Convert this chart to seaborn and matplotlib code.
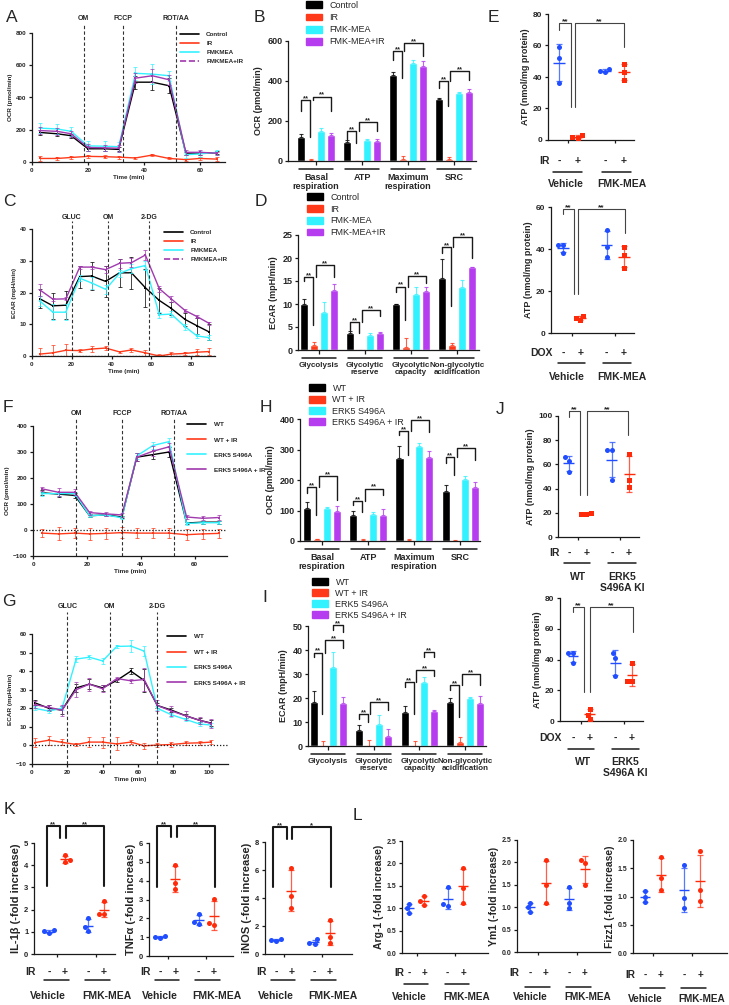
import numpy as np
import pandas as pd
import matplotlib
matplotlib.use("Agg")
import matplotlib.pyplot as plt
import seaborn as sns
from matplotlib.lines import Line2D
from matplotlib.patches import Patch

# ---------------- data ----------------
# A: OCR trace, FMK-MEA experiment
t_a = [3, 9, 14, 20, 26, 31, 37, 43, 49, 55, 60, 66]
ocr_a = {
    "Control": [183, 175, 163, 82, 82, 78, 495, 495, 473, 55, 55, 57],
    "IR": [22, 22, 28, 35, 33, 30, 25, 43, 22, 15, 22, 18],
    "FMKMEA": [210, 205, 190, 100, 98, 95, 550, 545, 535, 45, 50, 60],
    "FMKMEA+IR": [195, 190, 175, 90, 88, 85, 520, 535, 510, 60, 60, 55],
}
ocr_a_err = {
    "Control": [15, 15, 12, 15, 15, 12, 40, 50, 45, 10, 10, 10],
    "IR": [15, 12, 10, 8, 10, 10, 8, 8, 6, 6, 8, 10],
    "FMKMEA": [30, 30, 30, 30, 30, 30, 40, 60, 30, 20, 20, 15],
    "FMKMEA+IR": [20, 20, 20, 20, 20, 20, 30, 40, 30, 15, 15, 10],
}

# C: ECAR trace, FMK-MEA experiment
t_c = [4, 10.5, 17, 24, 30, 37, 44, 50, 57, 64, 70, 77, 83, 89]
ecar_c = {
    "Control": [18, 15.8, 16, 25, 25.2, 23.5, 26.2, 26.2, 21.5, 17.5, 15, 11.5, 9.5, 7.6],
    "IR": [0.6, 1, 1.8, 1.7, 2.2, 2.5, 1.3, 1.9, 1, 0, 0.6, 0.8, 1.2, 1.4],
    "FMKMEA": [17.3, 13.8, 13.8, 24.5, 23, 21, 26, 27.5, 28.5, 13, 13.2, 9.2, 6.3, 5.8],
    "FMKMEA+IR": [20.8, 17.9, 18, 28, 28, 27.2, 29.2, 29.4, 31.8, 21.2, 18, 14.3, 12.4, 10.3],
}
ecar_c_err = {
    "Control": [3, 4, 4.5, 3.5, 4.5, 5, 4.5, 5, 6, 4, 2, 2, 2.5, 2.5],
    "IR": [2, 2.5, 2, 0.5, 0.8, 0.5, 0.3, 0.5, 1, 0.5, 0.8, 0.5, 1, 1],
    "FMKMEA": [1.5, 2.5, 2.5, 1, 2, 1.5, 1, 1.5, 1.5, 1, 1, 1, 0.5, 0.8],
    "FMKMEA+IR": [1.8, 0.5, 0.5, 0.5, 0.5, 1, 1.5, 1.5, 1.5, 1, 1, 0.5, 0.5, 0.5],
}

# F: OCR trace, ERK5 S496A
t_f = [3.5, 9.5, 15.5, 21, 27, 33, 38.5, 44.5, 50.5, 57, 63, 69]
ocr_f = {
    "WT": [143, 138, 133, 55, 58, 50, 280, 290, 300, 27, 30, 30],
    "WT + IR": [-12, -15, -12, -15, -13, -10, -12, -12, -12, -18, -15, -13],
    "ERK5 S496A": [140, 140, 140, 55, 58, 47, 285, 325, 340, 25, 28, 28],
    "ERK5 S496A + IR": [158, 145, 145, 67, 62, 58, 280, 303, 320, 50, 45, 48],
}
ocr_f_err = {
    "WT": [10, 10, 10, 5, 5, 5, 15, 15, 20, 5, 5, 5],
    "WT + IR": [15, 25, 20, 22, 20, 20, 20, 20, 20, 20, 20, 18],
    "ERK5 S496A": [8, 8, 8, 5, 5, 5, 10, 15, 15, 5, 5, 5],
    "ERK5 S496A + IR": [8, 15, 12, 8, 8, 8, 15, 20, 15, 8, 8, 8],
}

# G: ECAR trace, ERK5 S496A
t_g = [1.5, 9.5, 17, 25, 32.5, 40, 48, 56, 63.5, 71, 79, 87, 95, 101.5]
ecar_g = {
    "WT": [23, 20, 19, 31, 33, 31, 35, 40, 35, 21.5, 19, 16, 13.5, 12],
    "WT + IR": [1.5, 2.8, 1.7, 0.5, 1.8, 1.8, 0.8, 1.8, -0.2, 0.2, 0.5, 1.2, 1.4, 1.8],
    "ERK5 S496A": [20, 18.5, 20, 46.5, 47.5, 45.5, 53.3, 53.5, 50.8, 20, 16.5, 14, 11.5, 11],
    "ERK5 S496A + IR": [22, 20.5, 19, 30, 33, 30.5, 36, 34.8, 35.5, 21.5, 18.5, 16, 13.5, 11.8],
}
ecar_g_err = {
    "WT": [1.5, 1.5, 2, 2, 2.5, 1.5, 1, 1.5, 6, 1.5, 1, 1, 1, 1.5],
    "WT + IR": [2.5, 2.5, 1.5, 1, 2.5, 3, 3.5, 1.2, 1.5, 1.2, 1.5, 1.2, 1.2, 1.2],
    "ERK5 S496A": [1, 1, 1, 1.5, 1, 1.5, 1, 3, 2.5, 1, 1, 1, 1, 1],
    "ERK5 S496A + IR": [2, 1.5, 3, 4, 3.5, 2, 1, 1, 6, 3, 2.5, 2.5, 2, 2.5],
}

# B / H: OCR bar summaries
ocr_cats = ["Basal\nrespiration", "ATP", "Maximum\nrespiration", "SRC"]
ocr_b = {
    "Control": [120, 95, 432, 310],
    "IR": [5, 0, 8, 10],
    "FMK-MEA": [150, 103, 490, 340],
    "FMK-MEA+IR": [128, 100, 473, 345],
}
ocr_b_err = {
    "Control": [15, 8, 15, 3],
    "IR": [5, 0, 15, 10],
    "FMK-MEA": [15, 5, 15, 3],
    "FMK-MEA+IR": [10, 8, 25, 15],
}
ocr_h = {
    "WT": [107, 85, 272, 165],
    "WT + IR": [5, 3, 3, 1],
    "ERK5 S496A": [107, 88, 310, 202],
    "ERK5 S496A + IR": [97, 85, 274, 176],
}
ocr_h_err = {
    "WT": [22, 13, 40, 20],
    "WT + IR": [3, 2, 2, 1],
    "ERK5 S496A": [3, 7, 12, 10],
    "ERK5 S496A + IR": [18, 20, 22, 16],
}

# D / I: ECAR bar summaries
ecar_cats = ["Glycolysis", "Glycolytic\nreserve", "Glycolytic\ncapacity", "Non-glycolytic\nacidification"]
ecar_d = {
    "Control": [10, 3.8, 10, 15.6],
    "IR": [1, -0.3, 0.7, 1.1],
    "FMK-MEA": [8.2, 3.3, 12.1, 13.6],
    "FMK-MEA+IR": [13, 3.8, 12.9, 18],
}
ecar_d_err = {
    "Control": [1, 0.3, 0.1, 4.2],
    "IR": [0.8, 0.2, 2, 0.4],
    "FMK-MEA": [2.2, 0.5, 1.6, 1.6],
    "FMK-MEA+IR": [1.4, 0.2, 0.8, 0.1],
}
ecar_i = {
    "WT": [18.5, 6.7, 14, 18.3],
    "WT + IR": [0, 0, 0, 1.6],
    "ERK5 S496A": [33, 9.2, 26.8, 20.1],
    "ERK5 S496A + IR": [17.8, 4.1, 14.4, 18],
}
ecar_i_err = {
    "WT": [4.3, 2, 2.5, 1.8],
    "WT + IR": [2.2, 2.7, 2.2, 2],
    "ERK5 S496A": [6.3, 3.7, 2, 0.2],
    "ERK5 S496A + IR": [2.6, 2.9, 0.5, 3],
}

# E / J / K / L: individual points (vehicle -, vehicle +, treated -, treated +)
atp_e_ir = [[59, 52, 36], [3, 2, 1.5], [45, 44, 43], [48, 43, 38]]
atp_e_dox = [[42, 42, 38], [8, 7, 6], [49, 41, 36], [41, 37, 31]]
atp_j_ir = [[66, 63, 54], [20, 19, 19], [72, 72, 47], [69, 47, 41]]
atp_j_dox = [[44, 44, 38], [8, 4, 1], [44, 41, 29], [38, 26, 26]]
il1b = [[1.07, 1.02, 0.95], [4.45, 4.22, 4.15], [1.6, 1.2, 1.02], [2.38, 1.82, 1.78]]
tnfa = [[1.08, 1.0, 0.95], [4.85, 3.85, 3.58], [2.22, 1.78, 1.7], [3.02, 1.77, 1.65]]
inos = [[1.08, 1.0, 0.95], [6.15, 4.15, 3.3], [1.05, 0.82, 0.72], [2.45, 1.22, 0.8]]
arg1 = [[1.1, 1.0, 0.9], [1.28, 1.15, 1.08], [1.48, 1.1, 1.05], [1.9, 1.45, 1.12]]
ym1 = [[1.1, 1.0, 0.9], [2.05, 1.5, 1.1], [1.45, 1.1, 0.98], [2.05, 1.98, 1.5]]
fizz1 = [[1.1, 1.0, 0.9], [1.7, 1.32, 1.12], [1.55, 0.98, 0.8], [1.8, 1.12, 0.92]]

# ---------------- style ----------------
sns.set_theme(style="ticks")
plt.rcParams["font.family"] = ["Liberation Sans", "DejaVu Sans"]
plt.rcParams["font.weight"] = "bold"
plt.rcParams["axes.labelweight"] = "bold"

BLACK = "#000000"
RED = "#ff3a1a"
CYAN = "#33f2ff"
VIOLET = "#b63cf0"
LPURPLE = "#a03aae"
BLUE = "#1f4dff"
DRED = "#ff2a0a"

W, H = 729, 1005
fig = plt.figure(figsize=(W / 100, H / 100), dpi=100)


def px_axes(l, t, r, b):
    return fig.add_axes([l / W, 1 - b / H, (r - l) / W, (b - t) / H])


def style(ax, fs, lw=0.9, tl=2.5):
    sns.despine(ax=ax)
    for s in ("left", "bottom"):
        ax.spines[s].set_linewidth(lw)
        ax.spines[s].set_color("k")
    ax.tick_params(labelsize=fs, width=lw, length=tl, pad=1.5, color="k")


def trace_panel(box, t, means, errs, colors, ylim, yticks, xlim, xticks, inj, inj_names,
                line_top, lab_dy, ylabel, leg_xy, leg_sp, dashed_last, fs=4.5, zero=False):
    l, tp, r, b = box
    h = b - tp
    ax = px_axes(*box)
    names = list(means)
    for n in names:
        c = colors[n]
        sns.lineplot(x=t, y=means[n], color=c, lw=1.0, marker="s", markersize=2,
                     markeredgewidth=0, ax=ax)
        ax.errorbar(t, means[n], yerr=errs[n], fmt="none", ecolor=c, elinewidth=0.6,
                    capsize=1.5, capthick=0.6, alpha=0.85)
    if zero:
        ax.axhline(0, ls=(0, (1, 1.5)), color="k", lw=0.9)
    for x, s in zip(inj, inj_names):
        ax.axvline(x, ymin=0, ymax=1 + (tp - line_top) / h, ls=(0, (3, 2)), color="#333333",
                   lw=0.8, clip_on=False)
        ax.text(x, 1 + lab_dy / h, s, transform=ax.get_xaxis_transform(), ha="center",
                va="center", fontsize=fs + 0.5)
    ax.set_xlim(xlim)
    ax.set_ylim(ylim)
    ax.set_xticks(xticks)
    ax.set_yticks(yticks)
    ax.set_ylabel(ylabel, fontsize=fs, labelpad=2)
    ax.set_xlabel("Time (min)", fontsize=fs, labelpad=2)
    style(ax, fs)
    handles = [Line2D([], [], color=colors[n], lw=1.2,
                      ls="--" if (dashed_last and n == names[-1]) else "-") for n in names]
    ax.legend(handles, names, loc="upper left", bbox_to_anchor=(leg_xy[0] / W, 1 - leg_xy[1] / H),
              bbox_transform=fig.transFigure, frameon=False, fontsize=fs, handlelength=3,
              handletextpad=1.2, labelspacing=leg_sp, borderpad=0, borderaxespad=0)
    return ax


def bar_panel(box, cats, vals, errs, colors, ylim, yticks, ylabel, xlim, brackets, leg_xy,
              leg_sp, fs=6.5, cat_fs=6.5):
    l, tp, r, b = box
    h = b - tp
    ax = px_axes(*box)
    conds = list(vals)
    df = pd.DataFrame([(c, k, v) for k in conds for c, v in zip(cats, vals[k])],
                      columns=["cat", "cond", "val"])
    sns.barplot(data=df, x="cat", y="val", hue="cond", order=cats, hue_order=conds,
                palette=colors, width=0.85, gap=0.18, errorbar=None, saturation=1,
                legend=False, ax=ax)
    slot = 0.85 / len(conds)

    def pos(i, j):
        return i + (j - (len(conds) - 1) / 2) * slot

    for j, k in enumerate(conds):
        xs = [pos(i, j) for i in range(len(cats))]
        ax.errorbar(xs, vals[k], yerr=[np.zeros(len(cats)), errs[k]], fmt="none",
                    ecolor=colors[k], elinewidth=0.8, capsize=1.6, capthick=0.8, alpha=0.8)
    for i, a, bb, top, yl, yr in brackets:
        x1 = pos(i, a) + (0.03 if a == 1 else 0)
        x2 = pos(i, bb) - (0.02 if bb == 1 else 0)
        ax.plot([x1, x1, x2, x2], [yl, top, top, yr], color="k", lw=1.0, clip_on=False)
        ax.annotate("**", ((x1 + x2) / 2, top), xytext=(0, -1.5), textcoords="offset points",
                    ha="center", va="bottom", fontsize=fs - 1, annotation_clip=False)
    ax.set_xlim(xlim)
    ax.set_ylim(ylim)
    ax.set_yticks(yticks)
    ax.set_xticks(range(len(cats)), cats)
    ax.set_xlabel("")
    ax.set_ylabel(ylabel, fontsize=fs, labelpad=3)
    style(ax, fs)
    ax.tick_params(axis="x", length=3, pad=5.5, labelsize=cat_fs)
    for lab in ax.get_xticklabels():
        lab.set_linespacing(1.05)
    for i in range(len(cats)):
        ax.plot([i - 0.37, i + 0.37], [-8 / h] * 2, transform=ax.get_xaxis_transform(),
                color="k", lw=1.1, clip_on=False)
    handles = [Patch(color=colors[k]) for k in conds]
    ax.legend(handles, conds, loc="upper left", bbox_to_anchor=(leg_xy[0] / W, 1 - leg_xy[1] / H),
              bbox_transform=fig.transFigure, frameon=False,
              prop={"weight": "normal", "size": fs}, handlelength=1.8, handleheight=0.8,
              handletextpad=0.8, labelspacing=leg_sp, borderpad=0, borderaxespad=0)
    return ax


POS = [0, 1, 2.5, 3.5]


def dot_panel(box, pts, ylim, yticks, ylabel, xlim, brackets, treat, groups, group_x, dy,
              fs=6, lab_fs=7.5, ylab_fs=6.5, red_marker="s", brk_color="#444444", brk_lw=0.8,
              ms=3.6):
    l, tp, r, b = box
    h = b - tp
    ax = px_axes(*box)
    for i, v in enumerate(pts):
        c = BLUE if i % 2 == 0 else DRED
        m = "o" if i % 2 == 0 else red_marker
        sns.swarmplot(x=np.full(len(v), POS[i]), y=v, native_scale=True, orient="x", color=c,
                      marker=m, size=ms, linewidth=0, ax=ax)
        mu, sd = np.mean(v), np.std(v, ddof=1)
        ax.hlines(mu, POS[i] - 0.32, POS[i] + 0.32, color=c, lw=1.0)
        ax.errorbar(POS[i], mu, yerr=sd, fmt="none", ecolor=c, elinewidth=0.9, capsize=2,
                    capthick=0.9, alpha=0.75)
    for x1, x2, top, yl, yr, s in brackets:
        ax.plot([x1, x1, x2, x2], [yl, top, top, yr], color=brk_color, lw=brk_lw, clip_on=False)
        ax.annotate(s, ((x1 + x2) / 2, top), xytext=(0, -1.5), textcoords="offset points",
                    ha="center", va="bottom", fontsize=fs, annotation_clip=False)
    ax.set_xlim(xlim)
    ax.set_ylim(ylim)
    ax.set_yticks(yticks)
    ax.set_xticks([0.5, 3.0], ["", ""])
    ax.set_xlabel("")
    ax.set_ylabel(ylabel, fontsize=ylab_fs, labelpad=2)
    style(ax, fs)
    tr = ax.get_xaxis_transform()
    y1 = -dy[0] / h
    ax.annotate(treat, (0, y1), xycoords="axes fraction", xytext=(2 * 0.72, 0),
                textcoords="offset points", ha="right", va="center", fontsize=lab_fs)
    for p, s in zip(POS, ["-", "+", "-", "+"]):
        ax.text(p, y1, s, transform=tr, ha="center", va="center", fontsize=lab_fs)
    for a, bq in [(-0.3, 1.25), (2.3, 3.9)]:
        ax.plot([a, bq], [-dy[1] / h] * 2, transform=tr, color="k", lw=1.1, clip_on=False)
    for x, s in zip(group_x, groups):
        ax.text(x, -dy[2] / h, s, transform=tr, ha="center", va="top", fontsize=lab_fs,
                linespacing=1.1)
    return ax


def letter(x, y, s):
    fig.text(x / W, 1 - y / H, s, fontsize=12.5, fontweight="normal", ha="center", va="center")


# ---------------- panels ----------------
col_a = {"Control": BLACK, "IR": RED, "FMKMEA": CYAN, "FMKMEA+IR": LPURPLE}
col_f = {"WT": BLACK, "WT + IR": RED, "ERK5 S496A": CYAN, "ERK5 S496A + IR": LPURPLE}
col_b = {"Control": BLACK, "IR": RED, "FMK-MEA": CYAN, "FMK-MEA+IR": VIOLET}
col_h = {"WT": BLACK, "WT + IR": RED, "ERK5 S496A": CYAN, "ERK5 S496A + IR": VIOLET}

trace_panel((32, 33, 225, 162), t_a, ocr_a, ocr_a_err, col_a, (0, 800), range(0, 801, 200),
            (0, 69), [0, 20, 40, 60], [18.5, 32.5, 51.5], ["OM", "FCCP", "ROT/AA"],
            25, 15, "OCR (pmol/min)", (180, 32), 0.55, True)

trace_panel((32, 229, 215, 356), t_c, ecar_c, ecar_c_err, col_a, (0, 40), range(0, 41, 10),
            (0, 92), [0, 20, 40, 60, 80], [20, 38.3, 58.8], ["GLUC", "OM", "2-DG"],
            221, 12, "ECAR (mpH/min)", (164, 230), 0.55, True, zero=True)

trace_panel((33, 426, 227, 556), t_f, ocr_f, ocr_f_err, col_f, (-100, 400), range(-100, 401, 100),
            (0, 72), [0, 20, 40, 60], [16, 33.2, 52.2], ["OM", "FCCP", "ROT/AA"],
            418, 13, "OCR (pmol/min)", (187, 422), 1.5, False, fs=4.6, zero=True)

trace_panel((32, 634, 228, 764), t_g, ecar_g, ecar_g_err, col_f, (-10, 60), range(-10, 61, 10),
            (0, 111), [0, 20, 40, 60, 80, 100], [20, 44, 70.7], ["GLUC", "OM", "2-DG"],
            612, 28, "ECAR (mpH/min)", (167, 634), 1.55, False, fs=4.6, zero=True)

bar_panel((288, 41, 476, 161), ocr_cats, ocr_b, ocr_b_err, col_b, (0, 600), range(0, 601, 200),
          "OCR (pmol/min)", (-0.61, 3.48),
          [(0, 0, 1, 303, 250, 120), (0, 1, 3, 322, 303, 248),
           (1, 0, 1, 148, 110, 90), (1, 1, 3, 193, 150, 150),
           (2, 0, 1, 548, 507, 415), (2, 1, 3, 590, 548, 523),
           (3, 0, 1, 398, 365, 273), (3, 1, 3, 448, 398, 407)],
          (306, 1), 0.35)

bar_panel((298, 235, 479, 350), ecar_cats, ecar_d, ecar_d_err, col_b, (0, 25), range(0, 26, 5),
          "ECAR (mpH/min)", (-0.46, 3.48),
          [(0, 0, 1, 15.8, 14.9, 5.5), (0, 1, 3, 18.4, 15.8, 15.8),
           (1, 0, 1, 6, 4.4, 3.7), (1, 1, 3, 8.6, 6, 7.3),
           (2, 0, 1, 13.8, 12.7, 6.6), (2, 1, 3, 16, 13.8, 14.5),
           (3, 0, 1, 22.3, 21, 9.5), (3, 1, 3, 24.6, 22.3, 19.9)],
          (307, 193), 0.3, cat_fs=5.8)

bar_panel((300, 419, 480, 541), ocr_cats, ocr_h, ocr_h_err, col_h, (0, 400), range(0, 401, 100),
          "OCR (pmol/min)", (-0.48, 3.43),
          [(0, 0, 1, 176, 158, 85), (0, 1, 3, 214, 176, 134),
           (1, 0, 1, 131, 118, 96), (1, 1, 3, 172, 131, 150),
           (2, 0, 1, 361, 348, 282), (2, 1, 3, 397, 361, 359),
           (3, 0, 1, 275, 255, 216), (3, 1, 3, 304, 275, 266)],
          (309, 384), 0.25)

bar_panel((308, 626, 486, 746), ecar_cats, ecar_i, ecar_i_err, col_h, (0, 50), range(0, 51, 10),
          "ECAR (mpH/min)", (-0.44, 3.46),
          [(0, 0, 1, 38.9, 36.9, 13.5), (0, 1, 3, 44.2, 38.9, 40.7), (0, 2, 3, 50.4, 48.3, 47.6),
           (1, 0, 1, 13.2, 11.4, 10), (1, 1, 3, 18.4, 13.2, 14.9),
           (2, 0, 1, 26.7, 24.7, 13.5), (2, 1, 3, 31.6, 26.7, 29.1), (2, 2, 3, 39, 36.9, 36.9),
           (3, 0, 1, 25.3, 23.3, 12.1), (3, 1, 3, 29.9, 25.3, 25.3)],
          (312, 578), 0.22, cat_fs=5.8)

dot_panel((548, 14, 634, 140), atp_e_ir, (0, 80), range(0, 81, 20), "ATP (nmol/mg protein)",
          (-0.59, 4.04),
          [(0, 0.67, 74.5, 70, 21, "**"), (0.86, 3.5, 74.5, 21, 59, "**")],
          "IR", ["Vehicle", "FMK-MEA"], [0.35, 3.4], (21, 32, 39))

dot_panel((551, 207, 634, 333), atp_e_dox, (0, 60), range(0, 61, 20), "ATP (nmol/mg protein)",
          (-0.69, 4.07),
          [(0, 0.65, 59.2, 56.8, 18.8, "**"), (0.85, 3.55, 59.2, 18.8, 47.5, "**")],
          "DOX", ["Vehicle", "FMK-MEA"], [0.2, 3.4], (20, 30, 39))

dot_panel((558, 416, 639, 537), atp_j_ir, (0, 100), range(0, 101, 20), "ATP (nmol/mg protein)",
          (-0.64, 4.08),
          [(0, 0.64, 103.8, 99, 34.4, "**"), (1.03, 3.45, 103.8, 34.4, 84, "**")],
          "IR", ["WT", "ERK5\nS496A KI"], [0.5, 3.1], (16, 26, 35), red_marker="s")

dot_panel((560, 598, 643, 721), atp_j_dox, (0, 80), range(0, 81, 20), "ATP (nmol/mg protein)",
          (-0.77, 4.15),
          [(0, 0.65, 73.9, 70.8, 19, "**"), (1.02, 3.55, 73.9, 19, 57.7, "**")],
          "DOX", ["WT", "ERK5\nS496A KI"], [0.6, 3.1], (17, 28, 36))

k_kw = dict(fs=5.5, lab_fs=7.5, ylab_fs=8, red_marker="o", brk_color="k", brk_lw=1.5)
dot_panel((34, 843, 115, 954), il1b, (0, 5), range(0, 6), "IL-1β (-fold increase)", (-0.96, 4.2),
          [(-0.15, 0.7, 5.75, 3.05, 5.22, "**"), (1.08, 3.5, 5.75, 5.22, 3.05, "**")],
          "IR", ["Vehicle", "FMK-MEA"], [-0.05, 3.7], (18, 26, 37), **k_kw)
dot_panel((149, 843, 233, 956), tnfa, (0, 6), range(0, 7), "TNFα (-fold increase)", (-0.71, 4.73),
          [(-0.17, 0.73, 6.89, 3.69, 6.32, "**"), (1.08, 3.57, 6.89, 6.32, 3.69, "**")],
          "IR", ["Vehicle", "FMK-MEA"], [0.0, 3.7], (16, 24, 35), **k_kw)
dot_panel((265, 842, 352, 954), inos, (0, 8), range(0, 9, 2), "iNOS (-fold increase)", (-0.71, 4.93),
          [(-0.21, 0.69, 9.07, 4.8, 8.24, "**"), (1.06, 3.55, 9.07, 8.24, 4.8, "*")],
          "IR", ["Vehicle", "FMK-MEA"], [0.0, 3.7], (18, 26, 37), **k_kw)

l_kw = dict(fs=5, lab_fs=7.2, ylab_fs=7.5, red_marker="o")
ticks_l = [0, 0.5, 1.0, 1.5, 2.0, 2.5]
dot_panel((402, 841, 488, 953), arg1, (0, 2.5), ticks_l, "Arg-1 (-fold increase)", (-0.45, 5.1),
          [], "IR", ["Vehicle", "FMK-MEA"], [0.0, 3.7], (20, 31, 39), **l_kw)
dot_panel((517, 840, 610, 952), ym1, (0, 2.5), ticks_l, "Ym1 (-fold increase)", (-0.83, 5.1),
          [], "IR", ["Vehicle", "FMK-MEA"], [0.0, 3.7], (21, 35, 40), **l_kw)
dot_panel((633, 840, 727, 953), fizz1, (0, 2.0), ticks_l[:5], "Fizz1 (-fold increase)", (-0.76, 5.2),
          [], "IR", ["Vehicle", "FMK-MEA"], [0.0, 3.6], (22, 35, 41), **l_kw)

for ax in fig.axes[-3:]:
    ax.yaxis.set_major_formatter(matplotlib.ticker.FormatStrFormatter("%.1f"))

for x, y, s in [(12, 18, "A"), (259, 17, "B"), (493, 17, "E"), (9, 201, "C"), (261, 201, "D"),
                (8, 407, "F"), (266, 408, "H"), (500, 409, "J"), (9, 602, "G"), (265, 598, "I"),
                (9, 809, "K"), (357, 815, "L")]:
    letter(x, y, s)

fig.savefig("out.png", dpi=100)
